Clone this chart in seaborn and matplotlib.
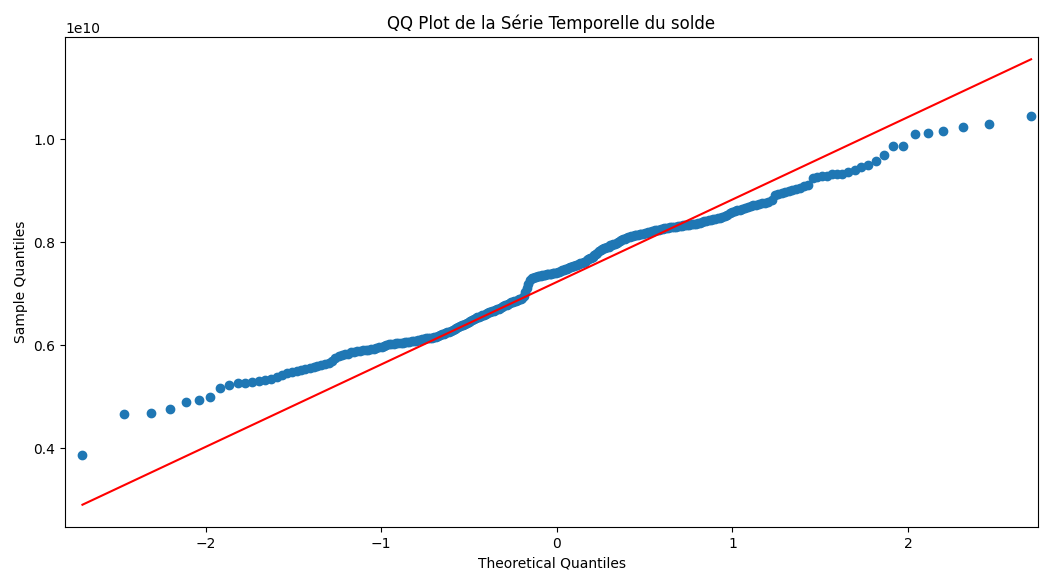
import numpy as np
import pandas as pd
import matplotlib
matplotlib.use("Agg")
import matplotlib.pyplot as plt
import seaborn as sns
from statistics import NormalDist

# Sorted sample values (solde), in units of 1e9
sample_quantiles_e9 = [
    3.87, 4.67, 4.69, 4.76, 4.90, 4.94, 5.00, 5.17, 5.23, 5.26,
    5.27, 5.28, 5.30, 5.32, 5.35, 5.39, 5.43, 5.47, 5.49, 5.50,
    5.52, 5.54, 5.56, 5.58, 5.60, 5.62, 5.64, 5.66, 5.70, 5.75,
    5.79, 5.81, 5.83, 5.84, 5.86, 5.87, 5.88, 5.89, 5.90, 5.91,
    5.91, 5.92, 5.93, 5.94, 5.96, 5.97, 5.98, 6.00, 6.02, 6.03,
    6.03, 6.04, 6.04, 6.05, 6.05, 6.06, 6.07, 6.07, 6.08, 6.08,
    6.09, 6.10, 6.11, 6.12, 6.13, 6.14, 6.14, 6.15, 6.15, 6.16,
    6.17, 6.18, 6.20, 6.21, 6.22, 6.24, 6.25, 6.26, 6.27, 6.29,
    6.32, 6.34, 6.36, 6.38, 6.39, 6.40, 6.42, 6.44, 6.46, 6.48,
    6.50, 6.52, 6.53, 6.54, 6.55, 6.56, 6.58, 6.59, 6.60, 6.62,
    6.64, 6.65, 6.66, 6.67, 6.69, 6.70, 6.71, 6.73, 6.75, 6.76,
    6.78, 6.79, 6.81, 6.83, 6.84, 6.85, 6.86, 6.87, 6.88, 6.89,
    6.90, 6.92, 6.95, 7.03, 7.12, 7.20, 7.27, 7.30, 7.31, 7.32,
    7.33, 7.34, 7.35, 7.35, 7.36, 7.37, 7.37, 7.38, 7.38, 7.39,
    7.39, 7.40, 7.40, 7.41, 7.42, 7.43, 7.45, 7.46, 7.47, 7.48,
    7.49, 7.50, 7.52, 7.53, 7.54, 7.55, 7.56, 7.57, 7.58, 7.59,
    7.60, 7.61, 7.62, 7.65, 7.68, 7.69, 7.70, 7.72, 7.75, 7.77,
    7.80, 7.83, 7.85, 7.87, 7.89, 7.90, 7.91, 7.92, 7.94, 7.95,
    7.96, 7.97, 7.99, 8.01, 8.03, 8.04, 8.06, 8.07, 8.09, 8.10,
    8.11, 8.12, 8.13, 8.14, 8.15, 8.15, 8.16, 8.16, 8.17, 8.18,
    8.19, 8.20, 8.21, 8.22, 8.23, 8.24, 8.25, 8.25, 8.26, 8.26,
    8.27, 8.27, 8.28, 8.29, 8.29, 8.30, 8.30, 8.31, 8.31, 8.32,
    8.33, 8.33, 8.34, 8.34, 8.35, 8.35, 8.36, 8.37, 8.38, 8.39,
    8.41, 8.42, 8.43, 8.44, 8.45, 8.46, 8.47, 8.48, 8.49, 8.51,
    8.54, 8.57, 8.59, 8.61, 8.62, 8.63, 8.64, 8.66, 8.68, 8.70,
    8.72, 8.73, 8.74, 8.76, 8.77, 8.79, 8.82, 8.92, 8.94, 8.96,
    8.98, 9.00, 9.01, 9.03, 9.06, 9.09, 9.12, 9.25, 9.27, 9.30,
    9.30, 9.32, 9.32, 9.32, 9.36, 9.40, 9.46, 9.50, 9.59, 9.69,
    9.88, 9.88, 10.10, 10.12, 10.17, 10.25, 10.31, 10.46,
]

# Reference line (slope and intercept, in units of 1e9)
ref_line_slope_e9 = 1.603
ref_line_intercept_e9 = 7.23

title = "QQ Plot de la Série Temporelle du solde"
xlabel = "Theoretical Quantiles"
ylabel = "Sample Quantiles"

sample = np.array(sample_quantiles_e9) * 1e9
n = len(sample)
nd = NormalDist()
theoretical = np.array([nd.inv_cdf(i / (n + 1)) for i in range(1, n + 1)])

ref = theoretical * ref_line_slope_e9 * 1e9 + ref_line_intercept_e9 * 1e9

df = pd.DataFrame({"theo": theoretical, "sample": sample, "ref": ref})

fig = plt.figure(figsize=(10.41, 5.74), dpi=100)
ax = fig.add_axes([65 / 1041, 1 - 527 / 574, (1038 - 65) / 1041, (527 - 37) / 574])

sns.scatterplot(data=df, x="theo", y="sample", ax=ax, s=36, color="#1f77b4",
                edgecolor="#1f77b4", linewidth=1, zorder=2)
sns.lineplot(data=df, x="theo", y="ref", ax=ax, color="red", linewidth=1.5,
             estimator=None, zorder=3)

ax.set_xlim(-2.80, 2.74)
ax.set_title(title, fontsize=12)
ax.set_xlabel(xlabel)
ax.set_ylabel(ylabel)

fig.savefig("out.png", dpi=100)
